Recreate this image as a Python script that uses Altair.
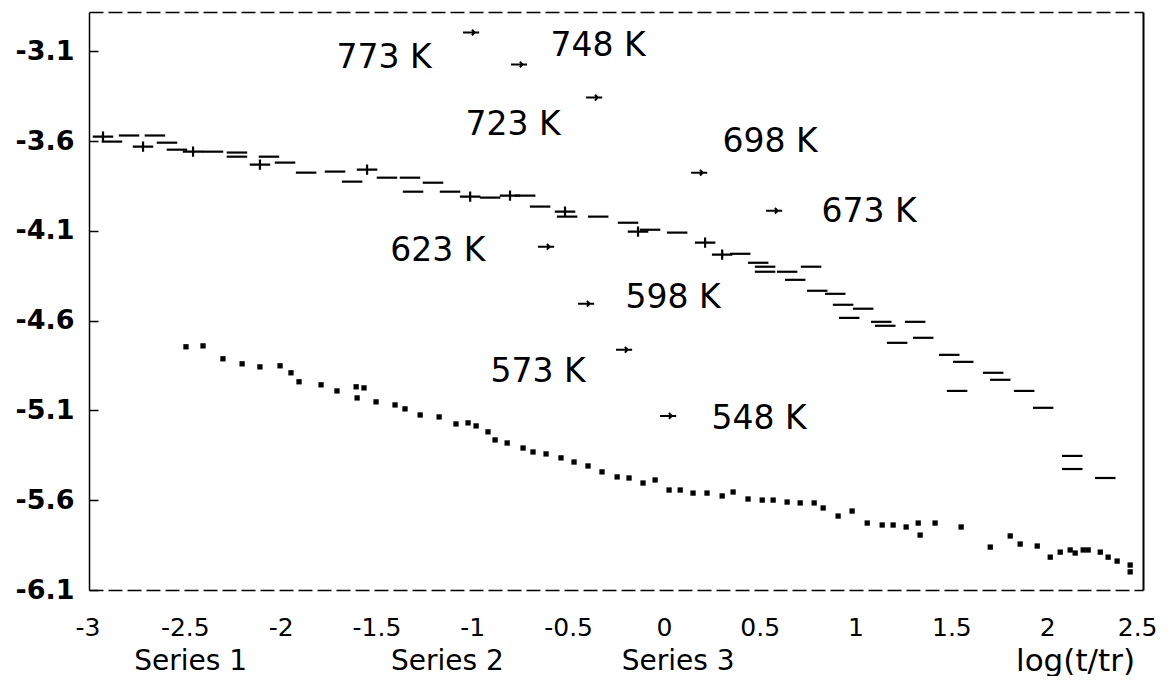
import altair as alt
import pandas as pd

# ---- upper band (dashes / crosses) ----
up_x = [-2.927, -2.880, -2.791, -2.656, -2.718, -2.593, -2.541, -2.457, -2.353, -2.228,
        -2.228, -2.108, -2.061, -1.977, -1.867, -1.716, -1.549, -1.627, -1.445, -1.325,
        -1.309, -1.205, -1.116, -1.011, -0.907, -0.803, -0.724, -0.646, -0.516, -0.505,
        -0.343, -0.187, -0.135, -0.072, 0.069, 0.215, 0.304, 0.398, 0.492, 0.528,
        0.528, 0.643, 0.685, 0.768, 0.800, 0.894, 0.935, 1.040, 0.967, 1.134,
        1.155, 1.311, 1.217, 1.353, 1.489, 1.562, 1.718, 1.755, 1.530, 1.880,
        1.979, 2.131, 2.131, 2.303]
up_y = [-3.574, -3.602, -3.568, -3.568, -3.630, -3.608, -3.647, -3.658, -3.658, -3.663,
        -3.686, -3.730, -3.686, -3.719, -3.775, -3.769, -3.758, -3.825, -3.803, -3.803,
        -3.881, -3.831, -3.881, -3.909, -3.914, -3.903, -3.903, -3.964, -3.992, -4.020,
        -4.020, -4.054, -4.104, -4.093, -4.109, -4.165, -4.232, -4.227, -4.277, -4.299,
        -4.327, -4.327, -4.372, -4.299, -4.433, -4.450, -4.511, -4.533, -4.584, -4.606,
        -4.628, -4.606, -4.723, -4.695, -4.790, -4.829, -4.890, -4.929, -4.991, -4.991,
        -5.085, -5.353, -5.426, -5.476]
up_kind = ["cross", "dash", "dash", "dash", "cross", "dash", "dash", "cross", "dash", "dash",
           "dash", "cross", "dash", "dash", "dash", "dash", "cross", "dash", "dash", "dash",
           "dash", "dash", "dash", "cross", "dash", "cross", "dash", "dash", "cross", "dash",
           "dash", "dash", "cross", "dash", "dash", "cross", "cross", "dash", "dash", "dash",
           "dash", "dash", "dash", "dash", "dash", "dash", "dash", "dash", "dash", "dash",
           "dash", "dash", "dash", "dash", "dash", "dash", "dash", "dash", "dash", "dash",
           "dash", "dash", "dash", "dash"]

# ---- lower series (dots) ----
lo_x = [-2.494, -2.405, -2.301, -2.201, -2.108, -2.003, -1.946, -1.904, -1.789, -1.706,
        -1.606, -1.565, -1.601, -1.502, -1.403, -1.351, -1.272, -1.173, -1.085, -1.022,
        -0.980, -0.918, -0.881, -0.818, -0.735, -0.683, -0.615, -0.537, -0.469, -0.396,
        -0.323, -0.244, -0.182, -0.109, -0.046, 0.027, 0.085, 0.152, 0.225, 0.304,
        0.361, 0.439, 0.513, 0.570, 0.643, 0.711, 0.784, 0.831, 0.909, 0.982,
        1.061, 1.139, 1.196, 1.264, 1.327, 1.337, 1.415, 1.551, 1.703, 1.807,
        1.859, 1.948, 2.016, 2.068, 2.120, 2.146, 2.188, 2.214, 2.277, 2.318,
        2.365, 2.433, 2.433]
lo_y = [-4.745, -4.740, -4.812, -4.840, -4.857, -4.851, -4.890, -4.940, -4.957, -4.991,
        -4.968, -4.974, -5.030, -5.052, -5.069, -5.091, -5.125, -5.136, -5.175, -5.169,
        -5.186, -5.219, -5.264, -5.281, -5.309, -5.331, -5.342, -5.364, -5.387, -5.409,
        -5.442, -5.470, -5.476, -5.504, -5.487, -5.543, -5.543, -5.560, -5.560, -5.576,
        -5.554, -5.593, -5.599, -5.599, -5.610, -5.615, -5.615, -5.643, -5.688, -5.660,
        -5.727, -5.738, -5.738, -5.749, -5.727, -5.794, -5.727, -5.749, -5.861, -5.799,
        -5.844, -5.855, -5.917, -5.889, -5.877, -5.894, -5.877, -5.877, -5.889, -5.917,
        -5.939, -5.961, -5.999]

# ---- temperature markers and labels ----
temps = ["773 K", "748 K", "723 K", "698 K", "673 K", "623 K", "598 K", "573 K", "548 K"]
mark_x = [-1.006, -0.756, -0.364, 0.184, 0.575, -0.615, -0.406, -0.208, 0.022]
mark_y = [-2.994, -3.172, -3.357, -3.775, -3.987, -4.188, -4.505, -4.762, -5.130]
lab_x = [-1.46, -0.343, -0.787, 0.554, 1.071, -1.18, 0.048, -0.657, 0.497]
lab_y = [-3.135, -3.068, -3.510, -3.606, -3.996, -4.214, -4.476, -4.883, -5.145]

# ---- series captions below the axis ----
series_names = ["Series 1", "Series 2", "Series 3"]
series_x = [-2.47, -1.13, 0.074]
series_y = [-6.50, -6.50, -6.50]

x_ticks = [-3, -2.5, -2, -1.5, -1, -0.5, 0, 0.5, 1, 1.5, 2, 2.5]
y_ticks = [-3.1, -3.6, -4.1, -4.6, -5.1, -5.6, -6.1]

W, H = 1054, 578

up_df = pd.DataFrame({"x": up_x, "y": up_y, "kind": up_kind})
lo_df = pd.DataFrame({"x": lo_x, "y": lo_y})
mk_df = pd.DataFrame({"x": mark_x, "y": mark_y, "t": temps})
lb_df = pd.DataFrame({"x": lab_x, "y": lab_y, "t": temps})
sr_df = pd.DataFrame({"x": series_x, "y": series_y, "t": series_names})

xs = alt.Scale(domain=[-3, 2.5], nice=False, zero=False)
ys = alt.Scale(domain=[-6.1, -2.88], nice=False, zero=False)

x_bottom = alt.Axis(values=x_ticks, orient="bottom", grid=False, ticks=False,
                    labelExpr="replace(format(datum.value, '~g'), '\u2212', '-')",
                    labelFont="DejaVu Sans", labelFontSize=25, labelColor="black",
                    labelPadding=37, labelBaseline="middle",
                    labelFlush=True, labelFlushOffset=14,
                    domainColor="black", domainWidth=1.5, domainDash=[14, 5],
                    title="log(t/tr)", titleFont="DejaVu Sans", titleFontSize=31,
                    titleFontWeight="normal", titleColor="black", titleX=986, titleY=71,
                    titleAlign="center", titleBaseline="middle")
y_left = alt.Axis(values=y_ticks, orient="left", grid=False, ticks=False,
                  labelExpr="replace(format(datum.value, '.1f'), '\u2212', '-')",
                  labelFont="DejaVu Sans", labelFontSize=27, labelFontWeight="bold",
                  labelColor="black", labelPadding=15, labelFlush=False,
                  domainColor="black", domainWidth=1.5, title=None)
x_top = alt.Axis(orient="top", grid=False, ticks=False, labels=False,
                 domainColor="black", domainWidth=1.5, domainDash=[14, 5], title=None)
y_right = alt.Axis(orient="right", grid=False, ticks=False, labels=False,
                   domainColor="black", domainWidth=2, title=None)
y_inner = alt.Axis(values=y_ticks, orient="right", offset=-W, grid=False, labels=False,
                   domain=False, tickSize=9, tickWidth=1.5, tickColor="black", title=None)

dash_path = "M-1,0L1,0"
cross_path = "M-1,0L1,0M0,-0.5L0,0.5"

upper = alt.Chart(up_df).mark_point(filled=False, color="black", strokeWidth=2.2, size=420,
                                    opacity=1).encode(
    x=alt.X("x:Q", scale=xs, axis=x_bottom),
    y=alt.Y("y:Q", scale=ys, axis=y_left),
    shape=alt.Shape("kind:N", scale=alt.Scale(domain=["dash", "cross"],
                                              range=[dash_path, cross_path]), legend=None),
)

lower = alt.Chart(lo_df).mark_point(filled=True, color="black", size=28, opacity=1,
                                    shape="square").encode(
    x=alt.X("x:Q", scale=xs, axis=x_top),
    y=alt.Y("y:Q", scale=ys, axis=y_right),
)

markers = alt.Chart(mk_df).mark_point(filled=False, color="black", strokeWidth=2, size=260,
                                      opacity=1, shape="M-1,0L1,0M0.1,-0.35L0.45,0L0.1,0.35").encode(
    x=alt.X("x:Q", scale=xs, axis=None),
    y=alt.Y("y:Q", scale=ys, axis=y_inner),
)

labels = alt.Chart(lb_df).mark_text(font="DejaVu Sans", fontSize=33, color="black",
                                    align="center", baseline="middle").encode(
    x=alt.X("x:Q", scale=xs, axis=None),
    y=alt.Y("y:Q", scale=ys, axis=None),
    text="t:N",
)

series = alt.Chart(sr_df).mark_text(font="DejaVu Sans", fontSize=28, color="black",
                                    align="center", baseline="middle").encode(
    x=alt.X("x:Q", scale=xs, axis=None),
    y=alt.Y("y:Q", scale=ys, axis=None),
    text="t:N",
)

chart = alt.layer(upper, lower, markers, labels, series).resolve_axis(
    x="independent", y="independent"
).properties(
    width=W, height=H,
    autosize=alt.AutoSizeParams(type="none"),
    padding={"left": 81, "top": 4, "right": 18, "bottom": 86},
    background="white",
).configure_view(stroke=None)

chart.save("out.html", embed_options={"renderer": "svg", "actions": False})
